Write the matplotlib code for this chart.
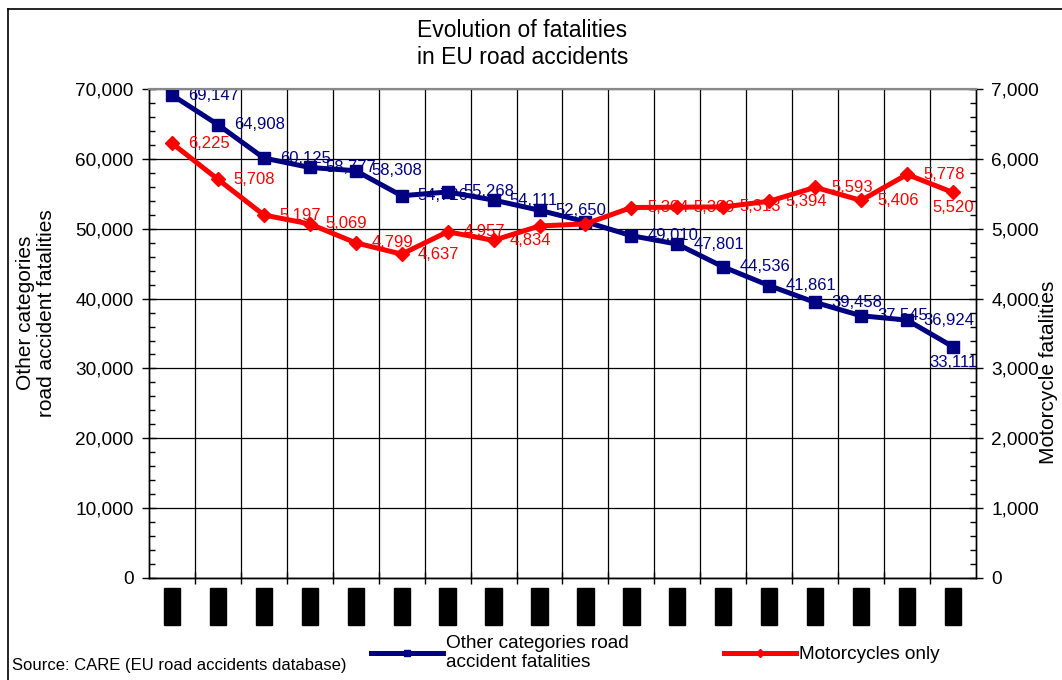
import matplotlib
matplotlib.use('Agg')
import matplotlib.pyplot as plt
from matplotlib.ticker import FuncFormatter, MultipleLocator
from matplotlib.lines import Line2D

plt.rcParams['font.family'] = ['Liberation Sans', 'DejaVu Sans']

## data
years = [str(y) for y in range(1991, 2009)]
other = [69147, 64908, 60125, 58777, 58308, 54726, 55268, 54111, 52650,
         51000, 49010, 47801, 44536, 41861, 39458, 37545, 36924, 33111]
moto = [6225, 5708, 5197, 5069, 4799, 4637, 4957, 4834, 5040,
        5070, 5304, 5309, 5313, 5394, 5593, 5406, 5778, 5520]
# labels that are not visible in the reference are None
other_labels = ['69,147', '64,908', '60,125', '58,777', '58,308', '54,726', '55,268', '54,111', '52,650',
                None, '49,010', '47,801', '44,536', '41,861', '39,458', '37,545', '36,924', '33,111']
moto_labels = ['6,225', '5,708', '5,197', '5,069', '4,799', '4,637', '4,957', '4,834', None,
               None, '5,304', '5,309', '5,313', '5,394', '5,593', '5,406', '5,778', '5,520']

BLUE = '#000080'
RED = '#FF0000'

fig = plt.figure(figsize=(10.62, 6.8), dpi=100)
ax = fig.add_axes([0.1403, 0.15, 0.7787, 0.719])
ax2 = ax.twinx()

x = list(range(len(years)))

ax.plot(x, other, color=BLUE, lw=3.6, marker='s', ms=8.5, zorder=3)
ax2.plot(x, moto, color=RED, lw=3.6, marker='D', ms=7.5, zorder=3)

## data labels (under the lines, like the original)
def put_labels(axis, vals, labels, color):
    last = len(vals) - 1
    for i, (v, lab) in enumerate(zip(vals, labels)):
        if lab is None:
            continue
        if i == last:
            axis.annotate(lab, (i, v), xytext=(0, -11), textcoords='offset points',
                          ha='center', va='center', color=color, fontsize=12, zorder=1)
        else:
            axis.annotate(lab, (i, v), xytext=(11.5, 0), textcoords='offset points',
                          ha='left', va='center', color=color, fontsize=12, zorder=1)

put_labels(ax, other, other_labels, BLUE)
put_labels(ax2, moto, moto_labels, RED)

## axes limits & ticks
ax.set_xlim(-0.5, len(years) - 0.5)
ax.set_ylim(0, 70000)
ax2.set_ylim(0, 7000)

fmt = FuncFormatter(lambda v, p: '{:,.0f}'.format(v))
ax.yaxis.set_major_locator(MultipleLocator(10000))
ax.yaxis.set_minor_locator(MultipleLocator(2000))
ax.yaxis.set_major_formatter(fmt)
ax2.yaxis.set_major_locator(MultipleLocator(1000))
ax2.yaxis.set_minor_locator(MultipleLocator(200))
ax2.yaxis.set_major_formatter(fmt)

ax.tick_params(axis='y', which='major', direction='inout', length=10, width=1, labelsize=13.7, pad=6)
ax.tick_params(axis='y', which='minor', direction='in', length=4, width=1)
ax2.tick_params(axis='y', which='major', direction='inout', length=10, width=1, labelsize=13.7, pad=6)
ax2.tick_params(axis='y', which='minor', direction='in', length=4, width=1)

ax.set_xticks(x)
ax.set_xticks([i + 0.5 for i in x[:-1]], minor=True)
ax.set_xticklabels(years, rotation=90, fontsize=11.5,
                   bbox=dict(facecolor='black', edgecolor='black', pad=0.5))
ax.tick_params(axis='x', which='major', length=0, pad=8)
ax.tick_params(axis='x', which='minor', direction='inout', length=9, width=1)

ax.grid(True, axis='y', which='major', color='black', lw=0.9)
ax.grid(True, axis='x', which='minor', color='black', lw=0.9)
ax.set_axisbelow(True)

for a in (ax, ax2):
    a.spines['top'].set_color('#888888')
    a.spines['top'].set_linewidth(1.5)
    a.spines['left'].set_linewidth(1)
    a.spines['right'].set_linewidth(1)
    a.spines['bottom'].set_linewidth(1)

## text
fig.text(0.492, 0.935, 'Evolution of fatalities\nin EU road accidents', ha='center', va='center',
         fontsize=16.5, linespacing=1.2)
fig.text(0.034, 0.54, 'Other categories\nroad accident fatalities', rotation=90, ha='center',
         va='center', fontsize=15, linespacing=1.15)
fig.text(0.987, 0.453, 'Motorcycle fatalities', rotation=90, ha='center', va='center', fontsize=15)
fig.text(0.011, 0.022, 'Source: CARE (EU road accidents database)', ha='left', va='center', fontsize=12)

## legend
handles = [Line2D([], [], color=BLUE, lw=3.6, marker='s', ms=4),
           Line2D([], [], color=RED, lw=3.6, marker='D', ms=4)]
fig.legend(handles, ['Other categories road\naccident fatalities', 'Motorcycles only'],
           loc='center', bbox_to_anchor=(0.617, 0.04), ncol=2, frameon=False, fontsize=13.7,
           handlelength=3.8, handletextpad=0.15, columnspacing=5.0, labelspacing=0.2)

## outer frame (left and top edges only visible)
fig.add_artist(Line2D([0.0075, 0.0075], [0.0, 0.987], color='black', lw=1.2))
fig.add_artist(Line2D([0.0075, 1.0], [0.987, 0.987], color='black', lw=1.2))

fig.savefig('out.png', dpi=100)
